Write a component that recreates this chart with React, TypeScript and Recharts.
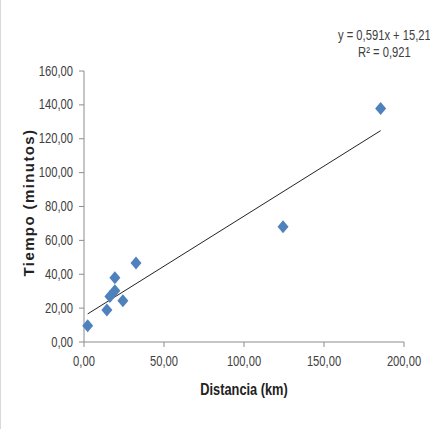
import { ScatterChart, Scatter, XAxis, YAxis, ReferenceLine, Label } from 'recharts';

// Distancia (km) vs Tiempo (minutos)
const distancias = [2.3, 14.3, 16.2, 19.3, 19.3, 24.3, 32.5, 124.4, 185.4];
const tiempos = [9.6, 18.9, 26.8, 30.2, 38.0, 24.3, 46.7, 68.0, 137.9];
const xTicks = [0, 50, 100, 150, 200];
const yTicks = [0, 20, 40, 60, 80, 100, 120, 140, 160];

// linear trend reported on the chart
const pendiente = 0.591;
const intercepto = 15.21;
const r2 = 0.921;

const puntos = distancias.map((x, i) => ({ x, y: tiempos[i] }));
const xMin = Math.min(...distancias);
const xMax = Math.max(...distancias);

const sans = '"Liberation Sans", Arial, sans-serif';
const squeeze = 0.8; // fake an Arial Narrow look
const axisColor = '#8c8c8c';
const textColor = '#404040';

const fmt = (v: number, d = 2) => v.toFixed(d).replace('.', ',');

const NarrowTick = (props: any) => {
  const { x, y, payload, textAnchor, axis } = props;
  const dy = axis === 'x' ? 15 : 4.5;
  return (
    <text
      transform={`translate(${x},${y + dy}) scale(${squeeze},1)`}
      textAnchor={textAnchor}
      fill={textColor}
      fontSize={14}
      fontFamily={sans}
    >
      {fmt(payload.value)}
    </text>
  );
};

const XTitle = (props: any) => {
  const { viewBox } = props;
  const cx = viewBox.x + viewBox.width / 2;
  return (
    <text
      transform={`translate(${cx},${viewBox.y + 53}) scale(${squeeze},1)`}
      textAnchor="middle"
      fill="#222"
      fontSize={16}
      fontFamily={sans}
      fontWeight="bold"
    >
      Distancia (km)
    </text>
  );
};

const Rombo = (props: any) => {
  const { cx, cy } = props;
  const w = 5.5;
  const h = 6.5;
  return (
    <path
      d={`M${cx},${cy - h} L${cx + w},${cy} L${cx},${cy + h} L${cx - w},${cy} Z`}
      fill="#4F81BD"
    />
  );
};

const App = () => {
  return (
    <div
      style={{
        position: 'absolute',
        left: 0,
        top: 0,
        width: 430,
        height: 429,
        background: '#fff',
        boxSizing: 'border-box',
        borderLeft: '1px solid #d9d9d9',
      }}
    >
      <ScatterChart width={430} height={429} margin={{ top: 71, right: 27, left: 23, bottom: 47 }}>
        <XAxis
          type="number"
          dataKey="x"
          domain={[0, 200]}
          ticks={xTicks}
          interval={0}
          height={40}
          stroke={axisColor}
          tickSize={5}
          tickMargin={4}
          tick={<NarrowTick axis="x" />}
        >
          <Label content={<XTitle />} />
        </XAxis>
        <YAxis
          type="number"
          dataKey="y"
          domain={[0, 160]}
          ticks={yTicks}
          interval={0}
          width={60}
          stroke={axisColor}
          tickSize={5}
          tickMargin={6}
          tick={<NarrowTick axis="y" />}
        >
          <Label
            value="Tiempo (minutos)"
            angle={-90}
            position="insideLeft"
            offset={5}
            dy={-4}
            style={{
              textAnchor: 'middle',
              fill: '#222',
              fontSize: 15,
              fontWeight: 'bold',
              letterSpacing: 1.4,
              fontFamily: sans,
            }}
          />
        </YAxis>
        <ReferenceLine
          segment={[
            { x: xMin, y: pendiente * xMin + intercepto },
            { x: xMax, y: pendiente * xMax + intercepto },
          ]}
          stroke="#222"
          strokeWidth={1}
        />
        <Scatter data={puntos} shape={<Rombo />} fill="#4F81BD" isAnimationActive={false} />
      </ScatterChart>
      <div
        style={{
          position: 'absolute',
          left: 318,
          top: 27,
          width: 130,
          textAlign: 'center',
          fontFamily: sans,
          fontSize: 14,
          lineHeight: '17px',
          color: textColor,
          whiteSpace: 'nowrap',
          transform: `scaleX(${squeeze})`,
          transformOrigin: '67px 0',
        }}
      >
        <div>y = {fmt(pendiente, 3)}x + {fmt(intercepto)}</div>
        <div>R² = {fmt(r2, 3)}</div>
      </div>
    </div>
  );
};

export default App;
